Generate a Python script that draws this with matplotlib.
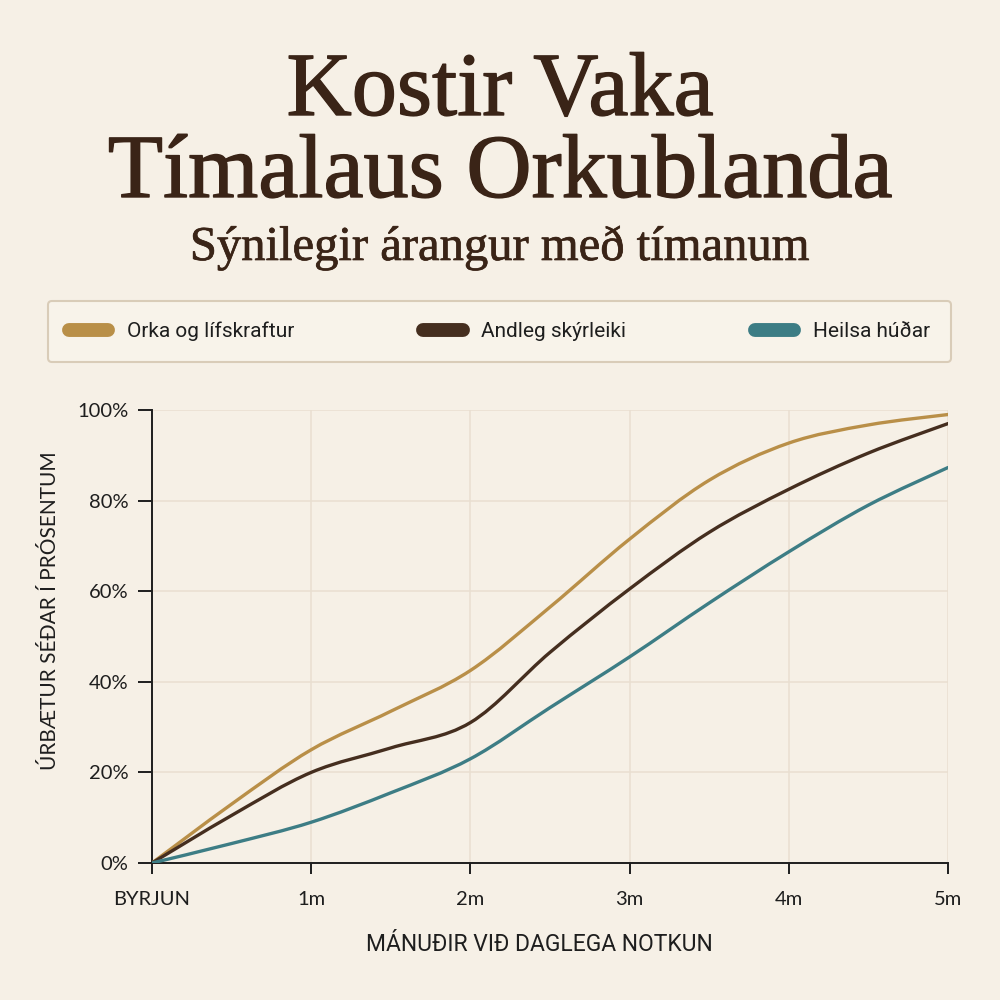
import matplotlib
matplotlib.use("Agg")
import matplotlib.pyplot as plt
import matplotlib.patheffects as pe
from matplotlib.path import Path
from matplotlib.patches import PathPatch
from matplotlib.lines import Line2D
import numpy as np

# values, every half month
months = [0, 0.5, 1, 1.5, 2, 2.5, 3, 3.5, 4, 4.5, 5]
orka = [0, 13, 25, 33.5, 42.5, 56.5, 71.5, 84.5, 92.7, 96.7, 99]
andleg = [0, 10.5, 20, 25.4, 31, 46.5, 60.5, 73, 82.5, 90.5, 97]
heilsa = [0, 4.3, 9, 15.5, 23, 34.3, 45.5, 57.4, 68.7, 79, 87.3]

series_names = ["Orka og lífskraftur", "Andleg skýrleiki", "Heilsa húðar"]
tick_months = [0, 1, 2, 3, 4, 5]
tick_labels = ["BYRJUN", "1m", "2m", "3m", "4m", "5m"]
pct_ticks = [0, 20, 40, 60, 80, 100]

BG = "#F6F0E6"
INK = "#3A2417"
COLORS = ["#B98F48", "#452E1F", "#3D7D85"]
GRID = "#E9DFD0"


def smooth_path(xs, ys):
    # catmull-rom through the read points, drawn as cubic bezier segments
    pts = np.column_stack([xs, ys]).astype(float)
    ext = np.vstack([pts[0], pts, pts[-1]])
    verts = [pts[0]]
    codes = [Path.MOVETO]
    for i in range(len(pts) - 1):
        p0, p1, p2, p3 = ext[i], ext[i + 1], ext[i + 2], ext[i + 3]
        c1 = p1 + (p2 - p0) / 6
        c2 = p2 - (p3 - p1) / 6
        verts += [c1, c2, p2]
        codes += [Path.CURVE4] * 3
    return Path(verts, codes)


fig = plt.figure(figsize=(10, 10), dpi=100, facecolor=BG)
ax = fig.add_axes([0.152, 0.137, 0.796, 0.453])
ax.set_facecolor(BG)

for ys, col in zip([orka, andleg, heilsa], COLORS):
    patch = PathPatch(smooth_path(months, ys), facecolor="none", edgecolor=col,
                      lw=2.4, capstyle="round", joinstyle="round",
                      transform=ax.transData, zorder=3)
    ax.add_patch(patch)

ax.set_xlim(0, 5)
ax.set_ylim(0, 100)
ax.set_xticks(tick_months)
ax.set_xticklabels(tick_labels)
ax.set_yticks(pct_ticks)
ax.set_yticklabels([f"{p}%" for p in pct_ticks])
ax.grid(True, color=GRID, lw=1.1, zorder=0)
ax.set_axisbelow(True)

for s in ["top", "right"]:
    ax.spines[s].set_visible(False)
for s in ["left", "bottom"]:
    ax.spines[s].set_color("#1E1E1E")
    ax.spines[s].set_linewidth(1.4)

ax.tick_params(axis="y", length=10, width=1.4, pad=7, labelsize=14.5,
               colors="#1E1E1E")
ax.tick_params(axis="x", length=8, width=1.4, pad=12, labelsize=14.5,
               colors="#1E1E1E")
for lab in ax.get_xticklabels() + ax.get_yticklabels():
    lab.set_family("Lato")

ax.set_xlabel("MÁNUÐIR VIÐ DAGLEGA NOTKUN", family="Roboto", fontsize=16.5,
              color="#1E1E1E", labelpad=18)
ax.xaxis.set_label_coords(0.487, -0.155)
ax.set_ylabel("ÚRBÆTUR SÉÐAR Í PRÓSENTUM", family="Lato", fontsize=15,
              color="#1E1E1E")
ax.yaxis.set_label_coords(-0.116, 0.556)

# titles
stroke = [pe.withStroke(linewidth=1.0, foreground=INK)]
fig.text(0.5, 0.885, "Kostir Vaka", ha="center", va="baseline",
         family="Liberation Serif", fontsize=65, color=INK, path_effects=stroke)
fig.text(0.5, 0.803, "Tímalaus Orkublanda", ha="center", va="baseline",
         family="Liberation Serif", fontsize=65, color=INK, path_effects=stroke)
fig.text(0.5, 0.740, "Sýnilegir árangur með tímanum", ha="center",
         va="baseline", family="Liberation Serif", fontsize=35, color=INK,
         path_effects=[pe.withStroke(linewidth=0.5, foreground=INK)])

# legend
handles = [Line2D([], [], color=c, lw=10, solid_capstyle="round")
           for c in COLORS]
leg = fig.legend(handles, series_names, loc="lower left", ncol=3,
                 mode="expand", bbox_to_anchor=(0.048, 0.638, 0.903, 0.059),
                 borderaxespad=0, frameon=True, fancybox=True,
                 handlelength=1.9, handletextpad=0.9, borderpad=1.0,
                 prop={"family": "Roboto", "size": 15})
frame = leg.get_frame()
frame.set_facecolor("#F8F3EA")
frame.set_edgecolor("#D9CCB8")
frame.set_linewidth(1.5)
frame.set_alpha(1)
for t in leg.get_texts():
    t.set_color("#1E1E1E")

fig.savefig("out.png", dpi=100, facecolor=BG)
